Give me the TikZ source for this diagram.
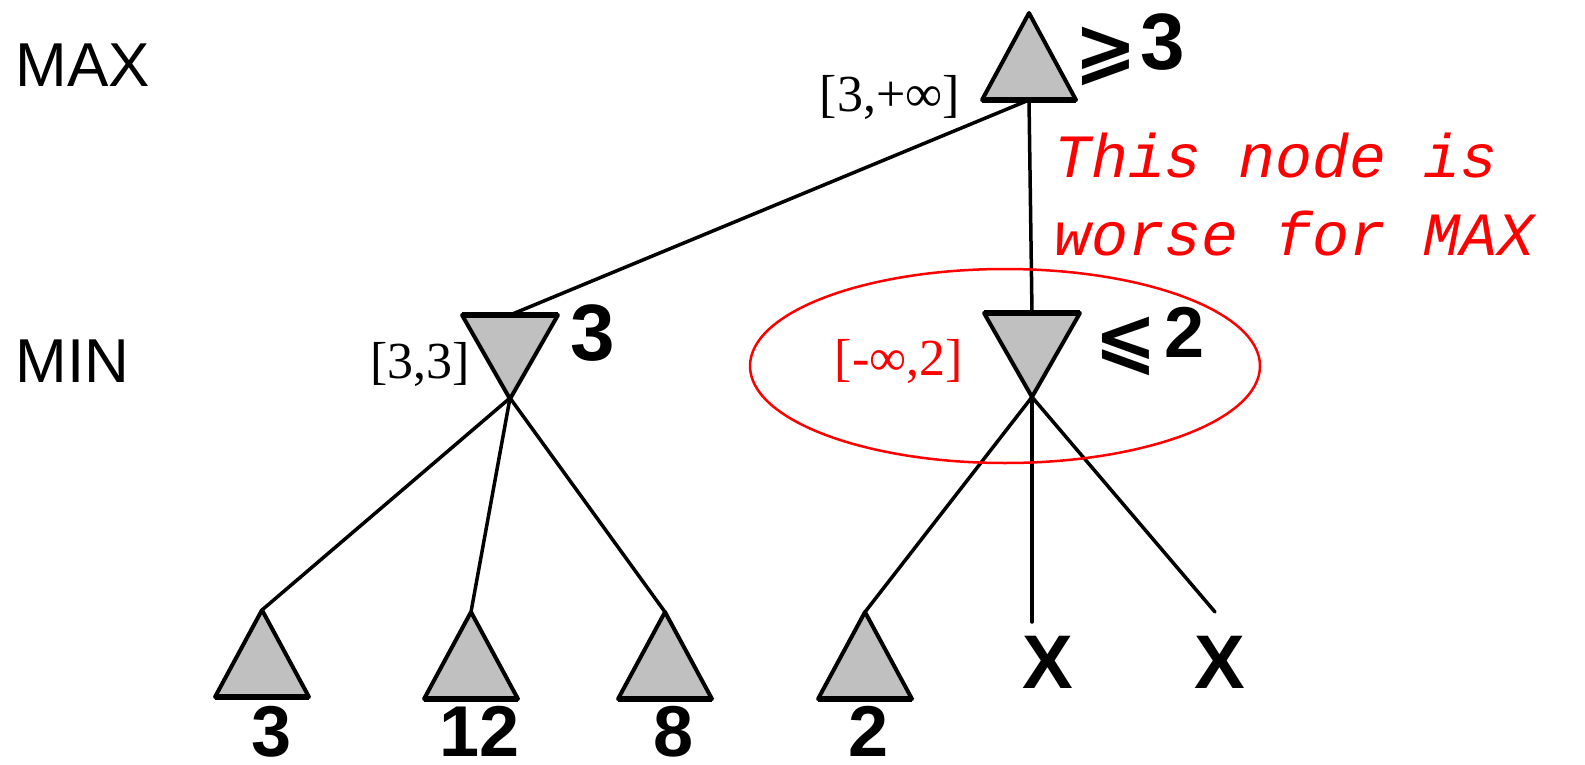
\documentclass[tikz,border=0pt]{standalone}
\usepackage{fontspec}
\setmainfont{Liberation Serif}
\setsansfont{Liberation Sans}
\setmonofont{Liberation Mono}
\newfontfamily\symfont{DejaVu Sans}
\usetikzlibrary{positioning}
\definecolor{nodegray}{RGB}{192,192,192}
\tikzset{
  edge/.style={line width=3.5pt, line cap=round},
  livello/.style={font=\sffamily\fontsize{62}{62}\selectfont, anchor=base west},
  valore/.style={font=\sffamily\bfseries\fontsize{72}{72}\selectfont, anchor=base, inner sep=0pt},
  intervallo/.style={font=\rmfamily\fontsize{52}{52}\selectfont, anchor=base east, inner sep=0pt},
  nota/.style={font=\ttfamily\itshape\fontsize{61.5}{77}\selectfont, text=red, anchor=base west, inner sep=0pt},
  maxtri/.pic={
    \coordinate (-top) at (0,0);
    \coordinate (-bot) at (0,87);
    \filldraw[fill=nodegray, draw=black, line width=4pt, line join=round] (0,0) -- (47,87) -- (-47,87) -- cycle;
    \draw[line width=5.5pt] (-47,87) -- (47,87);
  },
  mintri/.pic={
    \coordinate (-top) at (0,0);
    \coordinate (-bot) at (0,84);
    \filldraw[fill=nodegray, draw=black, line width=4pt, line join=round] (-48,0) -- (48,0) -- (0,84) -- cycle;
    \draw[line width=5.5pt] (-48,0) -- (48,0);
  }
}
\begin{document}
\begin{tikzpicture}[x=1pt,y=-1pt]
        \useasboundingbox (0,0) rectangle (1585,765);
        %disegno etichette livelli
        \node[livello] (lmax) at (12,87) {MAX};
        \node[livello] (lmin) at (12,382) {MIN};
        %disegno punti finali dei rami tagliati
        \coordinate (cut1) at (1032,622);
        \coordinate (cut2) at (1215,612);
        %disegno rami
        \draw[edge] (1029,100) coordinate (rootb) -- (510,315) coordinate (ltop);
        \draw[edge] (rootb) -- (1032,313) coordinate (rtop);
        \draw[edge] (510,398) coordinate (lbot) -- (262,610) coordinate (f1);
        \draw[edge] (lbot) -- (471,612) coordinate (f2);
        \draw[edge] (lbot) -- (665,612) coordinate (f3);
        \draw[edge] (1032,397) coordinate (rbot) -- (865,612) coordinate (f4);
        \draw[edge] (rbot) -- (cut1);
        \draw[edge] (rbot) -- (cut2);
        %disegno nodi
        \pic (root) at (1029,13) {maxtri};
        \pic (minl) at (ltop) {mintri};
        \pic (minr) at (rtop) {mintri};
        \pic (leaf1) at (f1) {maxtri};
        \pic (leaf2) at (f2) {maxtri};
        \pic (leaf3) at (f3) {maxtri};
        \pic (leaf4) at (f4) {maxtri};
        %disegno valori
        \node[valore] (v1) at (272,756) {3};
        \node[valore] (v2) at (480,756) {12};
        \node[valore] (v3) at (674,756) {8};
        \node[valore] (v4) at (869,756) {2};
        \node[valore, font=\sffamily\bfseries\fontsize{76}{76}\selectfont] (x1) at (1048,688) {X};
        \node[valore, font=\sffamily\bfseries\fontsize{76}{76}\selectfont] (x2) at (1220,688) {X};
        \node[valore, font=\sffamily\bfseries\fontsize{80}{80}\selectfont] (vminl) at (593,360) {3};
        \node[valore, font=\sffamily\bfseries\fontsize{80}{80}\selectfont] (vroot) at (1163,70) {3};
        \node[font=\symfont\bfseries\fontsize{75}{75}\selectfont, inner sep=0pt] (geq) at (1106,56) {⩾};
        \node[valore] (vminr) at (1185,357) {2};
        \node[font=\symfont\bfseries\fontsize{75}{75}\selectfont, inner sep=0pt] (leq) at (1126,346) {⩽};
        %disegno intervalli
        \node[intervallo] (iroot) at (960,112) {[3,+∞]};
        \node[intervallo] (iminl) at (470,378) {[3,3]};
        \node[intervallo, text=red] (iminr) at (963,375) {[-∞,2]};
        %disegno ellisse
        \draw[red, line width=2.5pt] (1005,366) ellipse [x radius=255, y radius=97];
        %disegno nota
        \node[nota] (nota1) at (1054,178) {This node is};
        \node[nota] (nota2) at (1054,255) {worse for MAX};
\end{tikzpicture}
\end{document}
